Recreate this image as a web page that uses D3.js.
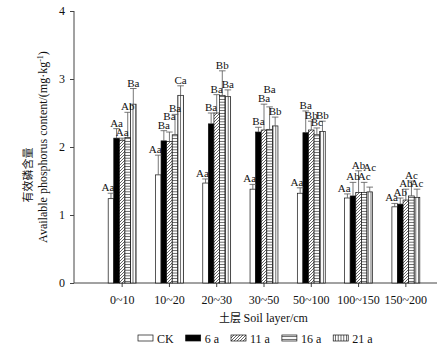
<!DOCTYPE html>
<html>
<head>
<meta charset="utf-8">
<script src="https://cdn.jsdelivr.net/npm/d3@7/dist/d3.min.js"></script>
<style>
  body { margin: 0; background: #fff; }
  svg { display: block; font-family: "Liberation Serif", "Times New Roman", serif; }
</style>
</head>
<body>
<div id="chart"></div>
<script>
const categories = ["0~10", "10~20", "20~30", "30~50", "50~100", "100~150", "150~200"];
const seriesNames = ["CK", "6 a", "11 a", "16 a", "21 a"];

const ckMean = [1.24, 1.59, 1.47, 1.38, 1.32, 1.25, 1.12];
const ckErr = [0.08, 0.29, 0.06, 0.07, 0.08, 0.06, 0.05];
const ckSig = ["Aa", "Aa", "Aa", "Aa", "Aa", "Aa", "Aa"];

const y6Mean = [2.13, 2.09, 2.34, 2.22, 2.21, 1.28, 1.16];
const y6Err = [0.14, 0.15, 0.16, 0.07, 0.32, 0.20, 0.09];
const y6Sig = ["Aa", "Ba", "Ba", "Ba", "Ba", "Ab", "Ab"];

const y11Mean = [2.10, 2.08, 2.50, 2.25, 2.25, 1.33, 1.22];
const y11Err = [0.03, 0.14, 0.27, 0.38, 0.13, 0.32, 0.16];
const y11Sig = ["Aa", "Ba", "Ba", "Ba", "Bb", "Ab", "Ab"];

const y16Mean = [2.14, 2.18, 2.76, 2.26, 2.18, 1.33, 1.28];
const y16Err = [0.37, 0.30, 0.36, 0.33, 0.10, 0.15, 0.22];
const y16Sig = ["Ab", "Ba", "Bb", "Ba", "Bc", "Ac", "Ac"];

const y21Mean = [2.63, 2.76, 2.74, 2.31, 2.23, 1.34, 1.26];
const y21Err = [0.23, 0.14, 0.10, 0.13, 0.15, 0.07, 0.12];
const y21Sig = ["Ba", "Ca", "Ba", "Bb", "Bb", "Ac", "Ac"];

const yTicks = [0, 1, 2, 3, 4];

const means = [ckMean, y6Mean, y11Mean, y16Mean, y21Mean];
const errs = [ckErr, y6Err, y11Err, y16Err, y21Err];
const sigs = [ckSig, y6Sig, y11Sig, y16Sig, y21Sig];

const svg = d3.select("#chart").append("svg")
  .attr("width", 444)
  .attr("height", 361);

// fill patterns for the series
const defs = svg.append("defs");
function addPattern(id, w, h, draw) {
  const p = defs.append("pattern")
    .attr("id", id)
    .attr("patternUnits", "userSpaceOnUse")
    .attr("width", w).attr("height", h);
  p.append("rect").attr("width", w).attr("height", h).attr("fill", "#fff");
  draw(p);
}
addPattern("diag", 3, 3, p => p.append("path")
  .attr("d", "M-1,1 l2,-2 M0,3 l3,-3 M2,4 l2,-2")
  .attr("stroke", "#222").attr("stroke-width", 0.7));
addPattern("horiz", 3, 2.8, p => p.append("line")
  .attr("x1", 0).attr("x2", 3).attr("y1", 1.4).attr("y2", 1.4)
  .attr("stroke", "#222").attr("stroke-width", 0.7));
addPattern("vert", 2.8, 3, p => p.append("line")
  .attr("x1", 1.4).attr("x2", 1.4).attr("y1", 0).attr("y2", 3)
  .attr("stroke", "#222").attr("stroke-width", 0.7));

const fills = ["#fff", "#000", "url(#diag)", "url(#horiz)", "url(#vert)"];

const axisLeftX = 74, axisRightX = 437, baseY = 283;

const y = d3.scaleLinear().domain([0, 4]).range([baseY, 11]);
const x = d3.scaleBand()
  .domain(categories)
  .range([98.5, 429.5])
  .paddingInner(0.41)
  .paddingOuter(0.205);
const xs = d3.scaleBand().domain(seriesNames).range([0, x.bandwidth()]);

const axisColor = "#444";

// y axis
const yAxis = svg.append("g")
  .attr("transform", `translate(${axisLeftX},0)`)
  .call(d3.axisLeft(y).tickValues(yTicks).tickSize(4).tickPadding(5).tickFormat(d3.format("d")));
yAxis.select(".domain").attr("stroke", axisColor).attr("d", `M0,${baseY}V${y(4)}`);
yAxis.selectAll(".tick line").attr("stroke", axisColor);
yAxis.selectAll(".tick text")
  .attr("font-family", "Liberation Serif, serif")
  .attr("font-size", 12).attr("fill", "#111");

// x axis
const xAxis = svg.append("g")
  .attr("transform", `translate(0,${baseY})`)
  .call(d3.axisBottom(x).tickSize(4).tickPadding(8));
xAxis.select(".domain").attr("stroke", axisColor).attr("d", `M${axisLeftX},0H${axisRightX}`);
xAxis.selectAll(".tick line").attr("stroke", axisColor);
xAxis.selectAll(".tick text")
  .attr("font-family", "Liberation Serif, serif")
  .attr("font-size", 12).attr("fill", "#111");

// bars
const barsG = svg.append("g");
const bw = xs.bandwidth();
categories.forEach((cat, ci) => {
  seriesNames.forEach((s, si) => {
    const v = means[si][ci];
    barsG.append("rect")
      .attr("x", x(cat) + xs(s))
      .attr("y", y(v))
      .attr("width", bw)
      .attr("height", baseY - y(v))
      .attr("fill", fills[si])
      .attr("stroke", "#111")
      .attr("stroke-width", 0.7);
  });
});

// error bars (upper only)
const errG = svg.append("g").attr("stroke", "#555").attr("stroke-width", 0.8);
categories.forEach((cat, ci) => {
  seriesNames.forEach((s, si) => {
    const v = means[si][ci], e = errs[si][ci];
    const cx = x(cat) + xs(s) + bw / 2;
    errG.append("line").attr("x1", cx).attr("x2", cx).attr("y1", y(v)).attr("y2", y(v + e));
    errG.append("line").attr("x1", cx - bw / 2 - 0.5).attr("x2", cx + bw / 2 + 0.5)
      .attr("y1", y(v + e)).attr("y2", y(v + e));
  });
});

// significance letters, nudged up when they collide with a neighbour
const labelG = svg.append("g")
  .attr("font-size", 11)
  .attr("fill", "#111");
categories.forEach((cat, ci) => {
  const placed = [];
  seriesNames.forEach((s, si) => {
    const v = means[si][ci], e = errs[si][ci];
    const cx = x(cat) + xs(s) + bw / 2;
    const lx = si === 0 ? x(cat) + xs(s) + bw + 0.5 : cx;
    const mid = si === 0 ? lx - 6 : lx;
    let base = y(v + e) - 2;
    placed.forEach(p => {
      if (Math.abs(p.mid - mid) < 9 && base - 8 < p.base - 3 && base > p.base - 8 + 3) {
        base = p.base - 9;
      }
    });
    placed.push({ mid, base });
    labelG.append("text")
      .attr("x", lx)
      .attr("y", base)
      .attr("text-anchor", si === 0 ? "end" : "middle")
      .text(sigs[si][ci]);
  });
});

// axis titles
const yTitleX = 32, yTitleX2 = 47;
svg.append("text")
  .attr("transform", `translate(${yTitleX},175) rotate(-90)`)
  .attr("text-anchor", "middle")
  .attr("font-family", "Noto Sans CJK SC, sans-serif")
  .attr("font-size", 11)
  .attr("fill", "#111")
  .text("有效磷含量");

const yTitle = svg.append("text")
  .attr("transform", `translate(${yTitleX2},147) rotate(-90)`)
  .attr("text-anchor", "middle")
  .attr("font-size", 12)
  .attr("fill", "#111");
yTitle.append("tspan").text("Available phosphorus content/(mg·kg");
yTitle.append("tspan").attr("font-size", 8).attr("baseline-shift", "super").text("-1");
yTitle.append("tspan").text(")");

const xTitle = svg.append("text")
  .attr("x", (axisLeftX + axisRightX) / 2 + 8)
  .attr("y", 322)
  .attr("text-anchor", "middle")
  .attr("font-size", 12)
  .attr("fill", "#111");
xTitle.append("tspan").attr("font-family", "Noto Sans CJK SC, sans-serif").attr("font-size", 11).text("土层 ");
xTitle.append("tspan").text("Soil layer/cm");

// legend
const legend = svg.append("g").attr("transform", "translate(138,338)");
let lx = 0;
seriesNames.forEach((s, si) => {
  legend.append("rect")
    .attr("x", lx).attr("y", -3)
    .attr("width", 15).attr("height", 6)
    .attr("fill", fills[si])
    .attr("stroke", "#111").attr("stroke-width", 0.7);
  const t = legend.append("text")
    .attr("x", lx + 19).attr("y", 4.5)
    .attr("font-size", 12)
    .attr("fill", "#111")
    .text(s);
  lx += 19 + t.node().getComputedTextLength() + 12;
});
</script>
</body>
</html>
